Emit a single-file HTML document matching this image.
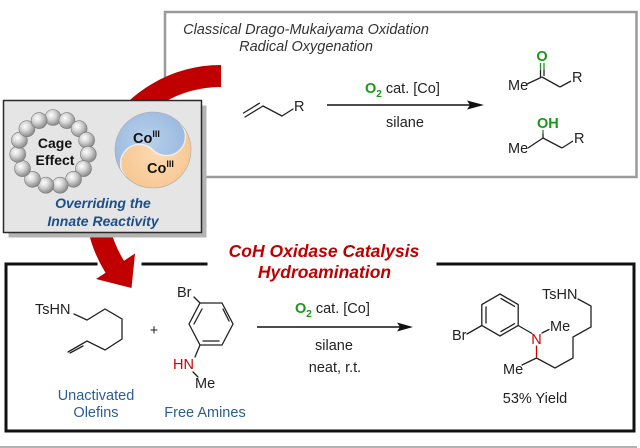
<!DOCTYPE html>
<html>
<head>
<meta charset="utf-8">
<style>
  html,body{margin:0;padding:0;background:#fff;}
  svg{display:block;}
  text{font-family:"Liberation Sans", Arial, sans-serif;}
</style>
</head>
<body>
<svg width="640" height="448" viewBox="0 0 640 448" xmlns="http://www.w3.org/2000/svg">
  <defs>
    <radialGradient id="sph" cx="38%" cy="35%" r="65%">
      <stop offset="0" stop-color="#ffffff"/>
      <stop offset="0.45" stop-color="#d6d6d6"/>
      <stop offset="1" stop-color="#8c8c8c"/>
    </radialGradient>
    <radialGradient id="blueG" cx="45%" cy="45%" r="60%">
      <stop offset="0" stop-color="#b9d1ec"/>
      <stop offset="1" stop-color="#98b8de"/>
    </radialGradient>
    <radialGradient id="orG" cx="55%" cy="55%" r="60%">
      <stop offset="0" stop-color="#fddab2"/>
      <stop offset="1" stop-color="#f6c38c"/>
    </radialGradient>
  </defs>

  <rect x="0" y="0" width="640" height="448" fill="#fff"/>

  <!-- Top box -->
  <rect x="165" y="12" width="471.5" height="165" fill="#fff" stroke="#9b9b9b" stroke-width="2.5"/>
  <text x="306" y="34" text-anchor="middle" font-style="italic" font-size="14.5" fill="#333">Classical Drago-Mukaiyama Oxidation</text>
  <text x="306" y="51" text-anchor="middle" font-style="italic" font-size="14.5" fill="#333">Radical Oxygenation</text>

  <!-- Top alkene -->
  <g stroke="#222" stroke-width="1.3" fill="none" stroke-linecap="round">
    <line x1="245" y1="117" x2="263" y2="106"/>
    <line x1="243.5" y1="113" x2="259.5" y2="103.2"/>
    <line x1="263" y1="106" x2="282" y2="116"/>
    <line x1="282" y1="116" x2="293" y2="109"/>
  </g>
  <text x="294" y="111" font-size="14.5" fill="#222">R</text>

  <!-- Top arrow -->
  <line x1="327" y1="105" x2="470" y2="105" stroke="#111" stroke-width="1.6"/>
  <polygon points="467,100.5 484,105 467,109.5 470,105" fill="#111"/>
  <text x="365" y="93" font-size="14.5" fill="#222"><tspan font-weight="bold" fill="#1a961a">O</tspan><tspan font-weight="bold" fill="#1a961a" font-size="10" dy="4">2</tspan><tspan dy="-4"> cat. [Co]</tspan></text>
  <text x="405" y="127" text-anchor="middle" font-size="14.5" fill="#222">silane</text>

  <!-- Ketone -->
  <text x="542" y="61" text-anchor="middle" font-weight="bold" font-size="14.5" fill="#1a961a">O</text>
  <g stroke-width="1.3" fill="none">
    <line x1="540.5" y1="63" x2="540.5" y2="70" stroke="#1a961a"/>
    <line x1="544" y1="63" x2="544" y2="70" stroke="#1a961a"/>
    <line x1="540.5" y1="70" x2="540.5" y2="77" stroke="#222"/>
    <line x1="544" y1="70" x2="544" y2="76" stroke="#222"/>
    <line x1="527" y1="84" x2="542" y2="77" stroke="#222"/>
    <line x1="542" y1="77" x2="560" y2="87" stroke="#222"/>
    <line x1="560" y1="87" x2="571" y2="81" stroke="#222"/>
  </g>
  <text x="508" y="90" font-size="14.5" fill="#222">Me</text>
  <text x="572" y="82" font-size="14.5" fill="#222">R</text>

  <!-- Alcohol -->
  <text x="537" y="128" font-weight="bold" font-size="14.5" fill="#1a961a">OH</text>
  <g stroke-width="1.3" fill="none">
    <line x1="543" y1="130" x2="543" y2="133.5" stroke="#1a961a"/>
    <line x1="543" y1="133.5" x2="543" y2="138" stroke="#222"/>
    <line x1="528" y1="148" x2="543" y2="138" stroke="#222"/>
    <line x1="543" y1="138" x2="562" y2="148" stroke="#222"/>
    <line x1="562" y1="148" x2="573" y2="141" stroke="#222"/>
  </g>
  <text x="508" y="153" font-size="14.5" fill="#222">Me</text>
  <text x="574" y="143" font-size="14.5" fill="#222">R</text>

  <!-- Red curved arrow -->
  <path d="M 221 76 A 125 125 0 0 0 115 267.2" stroke="#c00000" stroke-width="22" fill="none" stroke-linecap="butt"/>
  <polygon points="96,279 135,253.5 131.5,288" fill="#c00000"/>

  <!-- Left box -->
  <rect x="8.5" y="105.5" width="198" height="132" fill="#b4b4b4"/>
  <rect x="3.5" y="100.5" width="198" height="132" fill="#e5e5e5" stroke="#2a2a2a" stroke-width="1.5"/>

  <!-- cage spheres -->
  <g stroke="#7a7a7a" stroke-width="0.6" fill="url(#sph)">
    <circle cx="53" cy="117.5" r="8"/>
    <circle cx="66.9" cy="120.6" r="8"/>
    <circle cx="79.1" cy="128.7" r="8"/>
    <circle cx="86.6" cy="140.2" r="8"/>
    <circle cx="88.3" cy="154.3" r="8"/>
    <circle cx="83.5" cy="168.6" r="8"/>
    <circle cx="73.5" cy="179.3" r="8"/>
    <circle cx="60.1" cy="185.2" r="8"/>
    <circle cx="45.9" cy="185.2" r="8"/>
    <circle cx="32.5" cy="179.3" r="8"/>
    <circle cx="22.5" cy="168.6" r="8"/>
    <circle cx="17.7" cy="154.3" r="8"/>
    <circle cx="19.4" cy="140.2" r="8"/>
    <circle cx="26.9" cy="128.7" r="8"/>
    <circle cx="39.1" cy="120.6" r="8"/>
  </g>
  <text x="55" y="148" text-anchor="middle" font-weight="bold" font-size="14" fill="#111">Cage</text>
  <text x="55" y="165" text-anchor="middle" font-weight="bold" font-size="14" fill="#111">Effect</text>

  <!-- yin-yang -->
  <circle cx="153" cy="150" r="38" fill="url(#orG)"/>
  <path d="M 179.9 123.1 A 38 38 0 0 0 115 150 A 38 38 0 0 0 126.1 176.9 A 19 19 0 0 1 153 150 A 19 19 0 0 0 179.9 123.1 Z" fill="url(#blueG)"/>
  <path d="M 126.1 176.9 A 19 19 0 0 1 153 150 A 19 19 0 0 0 179.9 123.1" fill="none" stroke="#f4f4f4" stroke-width="1.5" opacity="0.85"/>
  <circle cx="153" cy="150" r="38" fill="none" stroke="#a9a9a9" stroke-width="0.6"/>
  <text x="133" y="143" font-weight="bold" font-size="14.5" fill="#111">Co<tspan font-size="9" dy="-6">III</tspan></text>
  <text x="147" y="173" font-weight="bold" font-size="14.5" fill="#111">Co<tspan font-size="9" dy="-6">III</tspan></text>

  <text x="103" y="208" text-anchor="middle" font-weight="bold" font-style="italic" font-size="14" fill="#1b4f8a">Overriding the</text>
  <text x="103" y="226" text-anchor="middle" font-weight="bold" font-style="italic" font-size="14" fill="#1b4f8a">Innate Reactivity</text>

  <!-- Bottom box -->
  <g stroke="#111" stroke-width="3" fill="none" stroke-linecap="square">
    <line x1="6" y1="264" x2="6" y2="431"/>
    <line x1="6" y1="431" x2="634" y2="431"/>
    <line x1="634" y1="264" x2="634" y2="431"/>
    <line x1="6" y1="264" x2="96" y2="264"/>
    <line x1="143" y1="264" x2="206" y2="264"/>
    <line x1="438" y1="264" x2="634" y2="264"/>
  </g>
  <line x1="0" y1="447" x2="637" y2="447" stroke="#666" stroke-width="1"/>

  <text x="324" y="257" text-anchor="middle" font-weight="bold" font-style="italic" font-size="17.5" fill="#c00000">CoH Oxidase Catalysis</text>
  <text x="324.5" y="278" text-anchor="middle" font-weight="bold" font-style="italic" font-size="17.5" fill="#c00000">Hydroamination</text>

  <!-- Reactant 1 -->
  <text x="35" y="314" font-size="14.5" fill="#222">TsHN</text>
  <g stroke="#222" stroke-width="1.3" fill="none" stroke-linecap="round">
    <polyline points="74,314 87,320 105,309 122,319 122,339 105,350 87,341 68,352"/>
    <line x1="83" y1="346" x2="70" y2="353"/>
  </g>
  <text x="154" y="335" text-anchor="middle" font-size="14.5" fill="#222">+</text>

  <!-- Reactant 2: bromoaniline -->
  <text x="177" y="297" font-size="14.5" fill="#222">Br</text>
  <g stroke="#222" stroke-width="1.3" fill="none" stroke-linecap="round">
    <line x1="194" y1="297" x2="200" y2="303"/>
    <polygon points="200,303 222,303 233,324 222,345 200,345 189,324"/>
    <line x1="223" y1="309" x2="229" y2="321"/>
    <line x1="203" y1="341" x2="219" y2="341"/>
    <line x1="194" y1="324" x2="202" y2="309"/>
    <line x1="200" y1="345" x2="195" y2="357"/>
    <line x1="193" y1="372" x2="198" y2="377"/>
  </g>
  <text x="173" y="369" font-size="14.5" fill="#cc0000">HN</text>
  <text x="195" y="388" font-size="14.5" fill="#222">Me</text>

  <text x="96" y="400" text-anchor="middle" font-size="14.5" fill="#2b5d94">Unactivated</text>
  <text x="96" y="417" text-anchor="middle" font-size="14.5" fill="#2b5d94">Olefins</text>
  <text x="205" y="417" text-anchor="middle" font-size="14.5" fill="#2b5d94">Free Amines</text>

  <!-- Bottom arrow -->
  <line x1="257" y1="327" x2="400" y2="327" stroke="#111" stroke-width="1.6"/>
  <polygon points="397,322.5 413,327 397,331.5 400,327" fill="#111"/>
  <text x="295" y="313" font-size="14.5" fill="#222"><tspan font-weight="bold" fill="#1a961a">O</tspan><tspan font-weight="bold" fill="#1a961a" font-size="10" dy="4">2</tspan><tspan dy="-4"> cat. [Co]</tspan></text>
  <text x="334" y="350" text-anchor="middle" font-size="14.5" fill="#222">silane</text>
  <text x="335" y="372" text-anchor="middle" font-size="14.5" fill="#222">neat, r.t.</text>

  <!-- Product -->
  <g stroke="#222" stroke-width="1.3" fill="none" stroke-linecap="round">
    <polygon points="500,294 518.2,304.5 518.2,325.5 500,336 481.8,325.5 481.8,304.5"/>
    <line x1="486" y1="307" x2="486" y2="323"/>
    <line x1="501" y1="298.5" x2="514.5" y2="306.3"/>
    <line x1="514.5" y1="323.7" x2="501" y2="331.5"/>
    <line x1="467" y1="334" x2="481.8" y2="325.5"/>
    <line x1="518.2" y1="325.5" x2="532" y2="333.5"/>
    <line x1="542" y1="333" x2="549" y2="329.5"/>
    <line x1="522" y1="365" x2="536.5" y2="358"/>
    <polyline points="536.5,358 555,368 573,358 573,337 591,327 591,306 578,299"/>
  </g>
  <line x1="536.5" y1="345.5" x2="536.5" y2="358" stroke="#cc0000" stroke-width="1.3"/>
  <text x="452" y="340" font-size="14.5" fill="#222">Br</text>
  <text x="536.5" y="344" text-anchor="middle" font-size="14.5" fill="#cc0000">N</text>
  <text x="550" y="331" font-size="14.5" fill="#222">Me</text>
  <text x="503" y="374" font-size="14.5" fill="#222">Me</text>
  <text x="542" y="299" font-size="14.5" fill="#222">TsHN</text>
  <text x="535" y="403" text-anchor="middle" font-size="14.5" fill="#222">53% Yield</text>
</svg>
</body>
</html>
